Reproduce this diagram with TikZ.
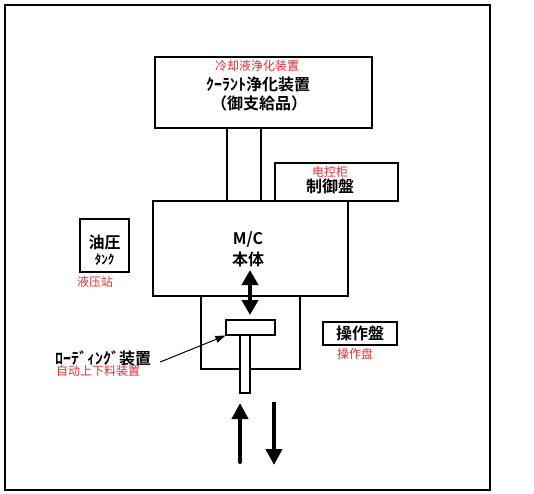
\documentclass[tikz,border=0pt]{standalone}
\usepackage{fontspec}
\usepackage{tikz}
\usetikzlibrary{arrows.meta}
\usepackage{xcolor}
\newfontfamily\jpfont{Noto Sans CJK JP}[BoldFont={Noto Sans CJK JP Bold}]
\newfontfamily\cnfont{Noto Sans CJK SC}
\definecolor{notered}{RGB}{226,48,52}

\begin{document}
\begin{tikzpicture}[x=1pt,y=-1pt,
	box/.style={draw, line width=1.1pt, inner sep=0pt, fill=white},
	jp/.style={font=\jpfont\bfseries\fontsize{16}{18}\selectfont, inner sep=0pt},
	cn/.style={font=\cnfont\fontsize{12}{14}\selectfont, text=notered, inner sep=0pt}]
		
		% page and frame
		\useasboundingbox (0,0) rectangle (534,493);
		\draw[line width=1.1pt] (5,5) rectangle (490,490);
		
		% coolant unit and pipe
		\node[box, minimum width=217pt, minimum height=71pt] (coolant) at (263.5,92.5) {};
		\node[box, minimum width=195pt, minimum height=95pt] (mc) at (250.5,248.5) {};
		\draw[line width=1.1pt] ([xshift=-36.5pt]coolant.south) -- ([xshift=-36.5pt]coolant.south |- mc.north);
		\draw[line width=1.1pt] ([xshift=-2.5pt]coolant.south) -- ([xshift=-2.5pt]coolant.south |- mc.north);
		\node[cn] (coolantcn) at (257,66) {冷却液浄化装置};
		\node[jp] (coolantjp) at (258,84) {ｸｰﾗﾝﾄ浄化装置};
		\node[jp] (coolantsub) at (259,103) {（御支給品）};
		
		% control cabinet
		\node[box, minimum width=123pt, minimum height=38pt] (ctrl) at (336.5,182) {};
		\node[cn] (ctrlcn) at (330,172) {电控柜};
		\node[jp] (ctrljp) at (330,186) {制御盤};
		
		% machine body
		\node[jp] (mcname) at (248,239) {M/C};
		\node[jp] (mcbody) at (248,259) {本体};
		
		% hydraulic tank
		\node[box, minimum width=49pt, minimum height=53pt] (tank) at (104.5,245.5) {};
		\node[jp] (tankjp) at (104.5,242) {油圧};
		\node[jp, font=\jpfont\bfseries\fontsize{13}{15}\selectfont] (tankkana) at (104.5,260) {ﾀﾝｸ};
		\node[cn] (tankcn) at (95,282) {液压站};
		
		% loading unit
		\draw[line width=1.1pt] (mc.south -| 201,0) -- (201,369) -- (300,369) -- (mc.south -| 300,0);
		\node[box, minimum width=49pt, minimum height=15pt] (plate) at (250.5,327.5) {};
		\node[box, minimum width=10pt, minimum height=58pt] (rod) at (245,364) {};
		\coordinate (liftT) at (250,270);
		\coordinate (liftB) at (250,315);
		\draw[line width=4pt, {Triangle[length=15pt,width=16pt]}-{Triangle[length=15pt,width=16pt]}] (liftT) -- (liftB);
		
		% loading label
		\node[jp] (loadjp) at (103,358) {ﾛｰﾃﾞｨﾝｸﾞ装置};
		\node[cn] (loadcn) at (98,371) {自动上下料装置};
		\draw[line width=1pt, -{Triangle[length=10pt,width=7pt]}] ([xshift=9pt,yshift=-4pt]loadjp.east) -- (plate.south west);
		
		% operation panel
		\node[box, minimum width=74pt, minimum height=23pt] (oppanel) at (360,333.5) {};
		\node[jp] (opjp) at (360,333.5) {操作盤};
		\node[cn] (opcn) at (355,354) {操作盘};
		
		% work in and out
		\coordinate (inS) at (240,462);
		\coordinate (inE) at (240,403);
		\coordinate (outS) at (274,402);
		\coordinate (outE) at (274,465);
		\draw[line width=4pt, line cap=round, -{Triangle[length=16pt,width=16pt]}] (inS) -- (inE);
		\draw[line width=4pt, -{Triangle[length=16pt,width=16pt]}] (outS) -- (outE);
		
	\end{tikzpicture}
\end{document}
